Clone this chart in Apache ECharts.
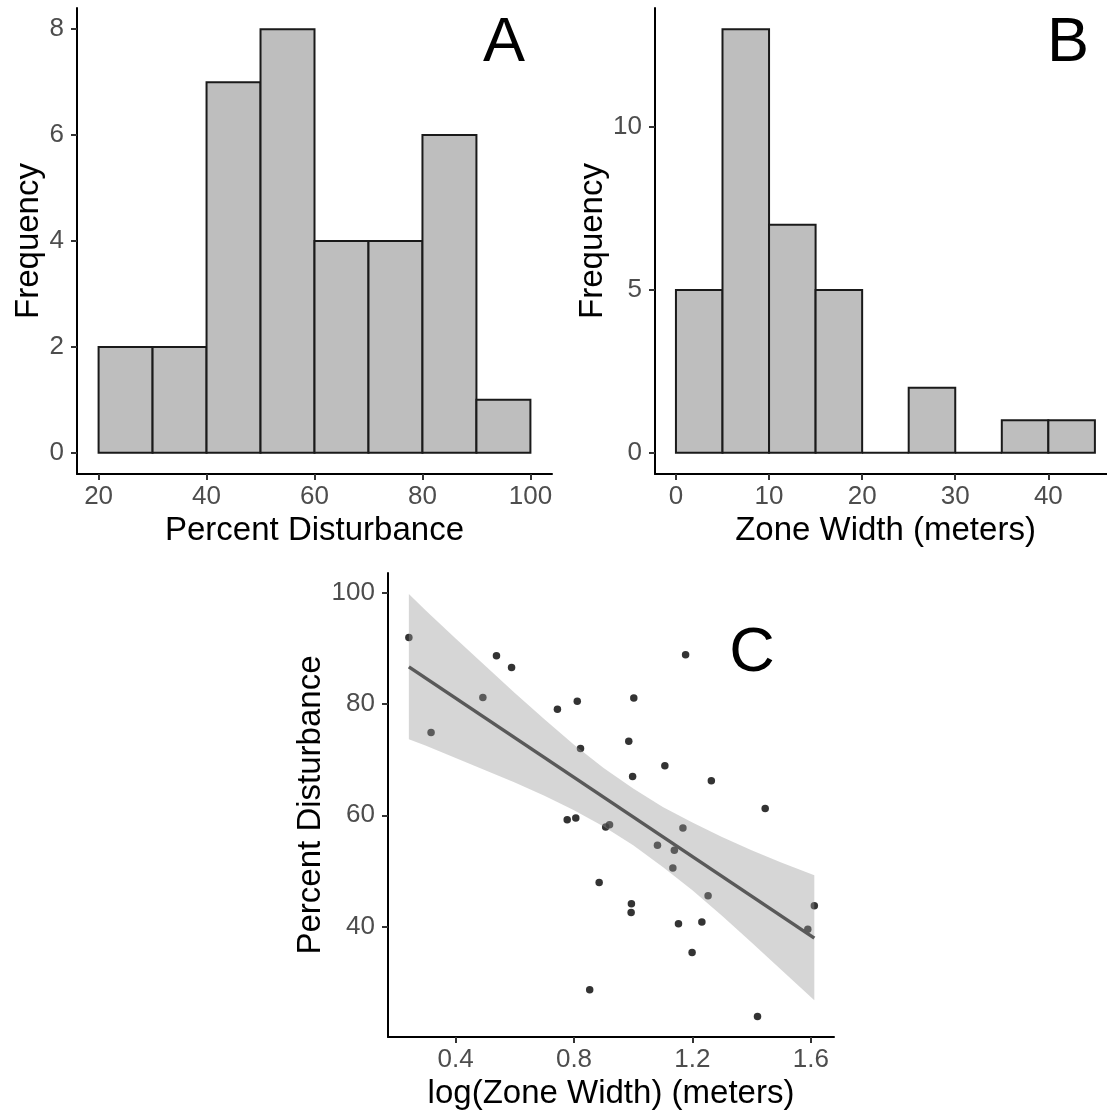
<!DOCTYPE html>
<html><head><meta charset="utf-8">
<script src="https://cdn.jsdelivr.net/npm/echarts@6/dist/echarts.min.js"></script>
<style>html,body{margin:0;padding:0;background:#fff}#c{width:1107px;height:1111px}</style>
</head><body><div id="c"></div>
<script>
// ---- Panel A: histogram of percent disturbance ----
const disturbBinStarts = [20, 30, 40, 50, 60, 70, 80, 90];
const disturbBinWidth = 10;
const disturbCounts = [2, 2, 7, 8, 4, 4, 6, 1];
// ---- Panel B: histogram of zone width ----
const widthBinStarts = [0, 5, 10, 15, 20, 25, 30, 35, 40];
const widthBinWidth = 5;
const widthCounts = [5, 13, 7, 5, 0, 2, 0, 1, 1];
// ---- Panel C: scatter, log(zone width) vs percent disturbance ----
const logZoneWidth = [0.242, 0.317, 0.492, 0.538, 0.589, 0.744, 0.811, 0.822, 1.002, 0.985, 0.998, 1.107, 1.177, 1.264, 1.446, 0.777, 0.806, 0.907, 0.920, 1.168, 1.082, 1.139, 1.134, 0.885, 0.994, 0.993, 1.253, 1.153, 1.232, 1.199, 0.853, 1.420, 1.612, 1.590];
const percentDisturbance = [92.0, 74.9, 81.2, 88.7, 86.6, 79.1, 80.5, 72.0, 81.1, 73.3, 67.0, 68.9, 88.9, 66.2, 61.2, 59.2, 59.5, 57.9, 58.3, 57.7, 54.6, 53.7, 50.5, 47.9, 44.1, 42.5, 45.5, 40.5, 40.8, 35.3, 28.6, 23.8, 43.7, 39.5];
// fitted line
const fitX = [0.242, 1.612];
const fitY = [86.7, 37.9];
// confidence band
const bandX = [0.242, 0.3, 0.4, 0.5, 0.6, 0.7, 0.8, 0.9, 1.0, 1.1, 1.2, 1.3, 1.4, 1.5, 1.612];
const bandUpper = [99.8, 96.8, 91.8, 86.9, 82.0, 77.3, 72.7, 68.5, 64.8, 61.5, 58.7, 56.1, 53.7, 51.5, 49.2];
const bandLower = [73.7, 72.5, 70.3, 68.1, 65.9, 63.5, 60.9, 58.0, 54.6, 50.7, 46.5, 41.9, 37.1, 32.2, 26.7];
// tick labels
const ticksAx = [20, 40, 60, 80, 100];
const ticksAy = [0, 2, 4, 6, 8];
const ticksBx = [0, 10, 20, 30, 40];
const ticksBy = [0, 5, 10];
const ticksCx = [0.4, 0.8, 1.2, 1.6];
const ticksCy = [40, 60, 80, 100];

const F = '"Liberation Sans", Arial, sans-serif';

function axis(gridIndex, min, max, ticks, name, nameGap, labelMargin, extra) {
  return Object.assign({
    type: 'value', gridIndex, min, max, name,
    nameLocation: 'middle', nameGap,
    nameTextStyle: { color: '#000', fontSize: 33, fontFamily: F },
    axisLine: { show: true, onZero: false, lineStyle: { color: '#000', width: 2 } },
    axisTick: { show: true, length: 6, customValues: ticks, lineStyle: { color: '#333', width: 2 } },
    axisLabel: { customValues: ticks, color: '#4d4d4d', fontSize: 26, fontFamily: F, margin: labelMargin },
    splitLine: { show: false }
  }, extra || {});
}

function histItem(params, api) {
  const x0 = api.value(0), x1 = api.value(1), c = api.value(2);
  const p0 = api.coord([x0, c]);
  const p1 = api.coord([x1, 0]);
  return {
    type: 'rect',
    shape: { x: p0[0], y: p0[1], width: p1[0] - p0[0], height: p1[1] - p0[1] },
    style: { fill: '#bebebe', stroke: '#1a1a1a', lineWidth: 2 }
  };
}

const histA = disturbBinStarts.map((s, i) => [s, s + disturbBinWidth, disturbCounts[i]]);
const histB = widthBinStarts.map((s, i) => [s, s + widthBinWidth, widthCounts[i]]);

const option = {
  animation: false,
  backgroundColor: '#fff',
  grid: [
    { left: 77, top: 8, width: 475, height: 466 },
    { left: 655, top: 8, width: 452, height: 466 },
    { left: 388, top: 573, width: 446, height: 465 }
  ],
  xAxis: [
    axis(0, 16, 104, ticksAx, 'Percent Disturbance', 40, 10),
    axis(1, -2.25, 46.3, ticksBx, 'Zone Width (meters)', 40, 10, { nameTextStyle: { color: '#000', fontSize: 33, fontFamily: F, padding: [0, 0, 0, 9] } }),
    axis(2, 0.1715, 1.6785, ticksCx, 'log(Zone Width) (meters)', 40, 10)
  ],
  yAxis: [
    axis(0, -0.4, 8.4, ticksAy, 'Frequency', 30, 13),
    axis(1, -0.65, 13.65, ticksBy, 'Frequency', 46, 13),
    axis(2, 20.1, 103.6, ticksCy, 'Percent Disturbance', 61, 13)
  ],
  series: [
    { type: 'custom', xAxisIndex: 0, yAxisIndex: 0, data: histA, encode: { x: [0, 1], y: 2 }, renderItem: histItem },
    { type: 'custom', xAxisIndex: 1, yAxisIndex: 1, data: histB, encode: { x: [0, 1], y: 2 }, renderItem: histItem },
    {
      type: 'scatter', xAxisIndex: 2, yAxisIndex: 2, z: 2,
      data: logZoneWidth.map((x, i) => [x, percentDisturbance[i]]),
      symbolSize: 7.5, itemStyle: { color: '#000' }
    },
    {
      type: 'custom', xAxisIndex: 2, yAxisIndex: 2, z: 3,
      data: bandX.map((x, i) => [x, bandLower[i], bandUpper[i]]),
      encode: { x: 0, y: [1, 2] },
      renderItem: function (params, api) {
        if (params.dataIndex !== 0) return;
        const up = bandX.map((x, i) => api.coord([x, bandUpper[i]]));
        const lo = bandX.map((x, i) => api.coord([x, bandLower[i]])).reverse();
        return { type: 'polygon', shape: { points: up.concat(lo) }, style: { fill: 'rgba(153,153,153,0.4)' } };
      }
    },
    {
      type: 'line', xAxisIndex: 2, yAxisIndex: 2, z: 4,
      data: fitX.map((x, i) => [x, fitY[i]]),
      showSymbol: false, symbol: 'none',
      lineStyle: { color: '#595959', width: 3.5 }
    }
  ],
  graphic: [
    { type: 'text', x: 504, y: 44, style: { text: 'A', fontSize: 63, fontFamily: F, fill: '#000', align: 'center', verticalAlign: 'middle' } },
    { type: 'text', x: 1068, y: 44, style: { text: 'B', fontSize: 63, fontFamily: F, fill: '#000', align: 'center', verticalAlign: 'middle' } },
    { type: 'text', x: 752, y: 654, style: { text: 'C', fontSize: 63, fontFamily: F, fill: '#000', align: 'center', verticalAlign: 'middle' } }
  ]
};

const chart = echarts.init(document.getElementById('c'), null, { renderer: 'canvas' });
chart.setOption(option);
</script>
</body></html>
